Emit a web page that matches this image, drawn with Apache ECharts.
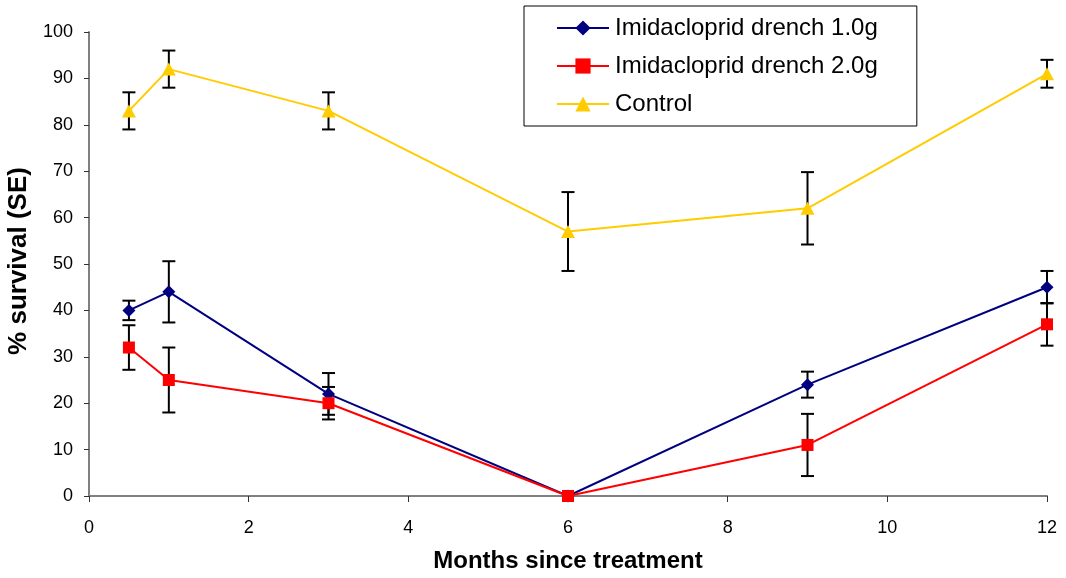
<!DOCTYPE html>
<html><head><meta charset="utf-8">
<script src="https://cdn.jsdelivr.net/npm/echarts@6/dist/echarts.min.js"></script>
<style>html,body{margin:0;padding:0;background:#fff}#c{width:1066px;height:578px}</style>
</head><body><div id="c"></div>
<script>
const months = [0.5, 1, 3, 6, 9, 12];
const seriesNames = ['Imidacloprid drench 1.0g', 'Imidacloprid drench 2.0g', 'Control'];
const imid1 = [40, 44, 22, 0, 24, 45];
const imid1SE = [2.1, 6.6, 4.5, 0, 2.8, 3.5];
const imid2 = [32, 25, 20, 0, 11, 37];
const imid2SE = [4.8, 7, 3.5, 0, 6.7, 4.6];
const control = [83, 92, 83, 57, 62, 91];
const controlSE = [4, 4, 4, 8.5, 7.8, 3];
const xTicks = [0, 2, 4, 6, 8, 10, 12];
const yTicks = [0, 10, 20, 30, 40, 50, 60, 70, 80, 90, 100];

const colors = ['#000080', '#ff0000', '#ffcc00'];
const symbols = ['diamond', 'rect', 'triangle'];
const symSizes = [13, 12, [14, 13]];
const vals = [imid1, imid2, control];
const ses = [imid1SE, imid2SE, controlSE];
const font = '"Liberation Sans", Arial, sans-serif';

const series = [];
vals.forEach((v, i) => {
  series.push({
    name: seriesNames[i], type: 'line',
    data: months.map((m, j) => [m, v[j]]),
    symbol: symbols[i], symbolSize: symSizes[i],
    itemStyle: { color: colors[i] },
    lineStyle: { color: colors[i], width: 2 },
    z: 3
  });
  series.push({
    type: 'custom', silent: true, z: 2,
    data: months.map((m, j) => [m, v[j] - ses[i][j], v[j] + ses[i][j]]).filter((d, j) => ses[i][j] > 0),
    renderItem: function (params, api) {
      const x = api.value(0);
      const lo = api.coord([x, api.value(1)]);
      const hi = api.coord([x, api.value(2)]);
      const hw = 6.5;
      const st = { stroke: '#000', lineWidth: 2 };
      return { type: 'group', children: [
        { type: 'line', shape: { x1: lo[0], y1: lo[1], x2: hi[0], y2: hi[1] }, style: st },
        { type: 'line', shape: { x1: lo[0] - hw, y1: lo[1], x2: lo[0] + hw, y2: lo[1] }, style: st },
        { type: 'line', shape: { x1: hi[0] - hw, y1: hi[1], x2: hi[0] + hw, y2: hi[1] }, style: st }
      ]};
    }
  });
});

const chart = echarts.init(document.getElementById('c'), null, { renderer: 'canvas' });
chart.setOption({
  animation: false,
  backgroundColor: '#fff',
  grid: { left: 89, right: 19, top: 32, bottom: 82, containLabel: false, outerBoundsMode: 'none' },
  legend: {
    data: seriesNames,
    orient: 'vertical', left: 524, top: 6,
    padding: [10, 39, 10, 32],
    itemGap: 14, itemWidth: 52, itemHeight: 19,
    backgroundColor: '#fff', borderColor: '#000', borderWidth: 1, borderRadius: 0,
    textStyle: { fontFamily: font, fontSize: 24, lineHeight: 24, color: '#000', padding: [0, 0, 0, 1] }
  },
  xAxis: {
    type: 'value', min: 0, max: 12, interval: 2,
    name: 'Months since treatment', nameLocation: 'middle', nameGap: 53,
    nameTextStyle: { fontFamily: font, fontWeight: 'bold', fontSize: 24, color: '#000' },
    axisLine: { onZero: false, lineStyle: { color: '#808080', width: 2 } },
    axisTick: { show: true, inside: false, length: 6, lineStyle: { color: '#333', width: 1 } },
    axisLabel: { fontFamily: font, fontSize: 18, color: '#000', margin: 23, formatter: v => xTicks.includes(v) ? String(v) : '' },
    splitLine: { show: false }
  },
  yAxis: {
    type: 'value', min: 0, max: 100, interval: 10,
    name: '% survival (SE)', nameLocation: 'middle', nameGap: 53, nameRotate: 90,
    nameTextStyle: { fontFamily: font, fontWeight: 'bold', fontSize: 26, color: '#000', padding: [0, 0, 0, 6] },
    axisLine: { show: true, lineStyle: { color: '#808080', width: 2 } },
    axisTick: { show: true, inside: false, length: 5, lineStyle: { color: '#333', width: 1 } },
    axisLabel: { fontFamily: font, fontSize: 18, color: '#000', margin: 16, formatter: v => yTicks.includes(v) ? String(v) : '' },
    splitLine: { show: false }
  },
  series: series
});
</script></body></html>
